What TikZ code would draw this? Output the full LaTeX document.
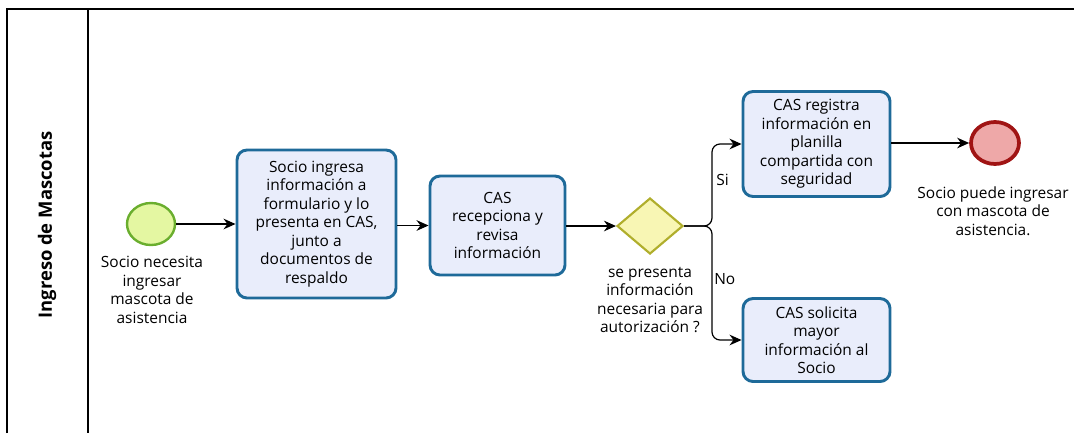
\documentclass[tikz,border=0pt]{standalone}
\usepackage{fontspec}
\setmainfont{Open Sans}
\usetikzlibrary{arrows.meta,shapes.geometric}
\definecolor{taskfill}{HTML}{E9EDFB}
\definecolor{taskdraw}{HTML}{1E6A99}
\definecolor{startfill}{HTML}{E4F7A2}
\definecolor{startdraw}{HTML}{6AAE2E}
\definecolor{gwfill}{HTML}{F8F6B4}
\definecolor{gwdraw}{HTML}{B0AE2C}
\definecolor{endfill}{HTML}{EEA8A8}
\definecolor{enddraw}{HTML}{A01414}
\tikzset{
  txt/.style={align=center, font=\fontsize{11.6}{13.9}\selectfont, inner sep=0pt},
  task/.style={txt, draw=taskdraw, fill=taskfill, line width=2.2pt, rounded corners=7.5pt},
  evstart/.style={ellipse, draw=startdraw, fill=startfill, line width=1.8pt, minimum width=36pt, minimum height=31.5pt, inner sep=0pt},
  evend/.style={ellipse, draw=enddraw, fill=endfill, line width=2.8pt, minimum width=36pt, minimum height=31.5pt, inner sep=0pt},
  gateway/.style={diamond, draw=gwdraw, fill=gwfill, line width=1.6pt, minimum width=49.5pt, minimum height=42pt, inner sep=0pt},
  flow/.style={line width=0.9pt, -{Stealth[length=9pt,width=8pt]}},
  pool/.style={line width=1.1pt}
}
\begin{document}
\begin{tikzpicture}[x=0.75pt,y=-0.75pt]
\useasboundingbox (0,0) rectangle (1074,433);
% pool
\coordinate (ptl) at (7,9);
\coordinate (ptr) at (1074,9);
\coordinate (pbl) at (7,433);
\coordinate (ltop) at (88,9);
\coordinate (lbot) at (88,433);
\draw[pool] (pbl) -- (ptl) -- (ptr);
\draw[pool] (ltop) -- (lbot);
\node[rotate=90, font=\fontsize{13.8}{16}\selectfont\bfseries] (lane) at (47,225) {Ingreso de Mascotas};
% nodes
\node[evstart] (s) at (151,224) {};
\node[txt] (sl) at (152,290) {Socio necesita\\ingresar\\mascota de\\asistencia};
\node[task, minimum width=119.25pt, minimum height=111pt] (t1) at (316.5,224) {Socio ingresa\\información a\\formulario y lo\\presenta en CAS,\\junto a\\documentos de\\respaldo};
\node[task, minimum width=101.25pt, minimum height=74.25pt] (t2) at (497.5,225.5) {CAS\\recepciona y\\revisa\\información};
\node[gateway] (gw) at (650,226) {};
\node[txt] (gwl) at (650,300) {se presenta\\información\\necesaria para\\autorización ?};
\node[task, minimum width=110.25pt, minimum height=78.75pt] (t3) at (816.5,144) {CAS registra\\información en\\planilla\\compartida con\\seguridad};
\node[task, minimum width=110.25pt, minimum height=62.25pt] (t4) at (816.5,340) {CAS solicita\\mayor\\información al\\Socio};
\node[evend] (e) at (995,143) {};
\node[txt] (el) at (993,211) {Socio puede ingresar\\con mascota de\\asistencia.};
% flows
\coordinate (br) at (712,226);
\draw[flow] (s) -- (t1);
\draw[flow] (t1.east |- t2.west) -- (t2.west);
\draw[flow] (t2.east |- gw.west) -- (gw.west);
\draw[flow, rounded corners=6pt] (gw.east) -- (br) |- (t3.west);
\draw[flow, rounded corners=6pt] (gw.east) -- (br) |- (t4.west);
\draw[flow] (t3.east |- e.west) -- (e.west);
\node[txt, anchor=west] (si) at (716,180) {Si};
\node[txt, anchor=west] (no) at (714,279) {No};
\end{tikzpicture}
\end{document}
